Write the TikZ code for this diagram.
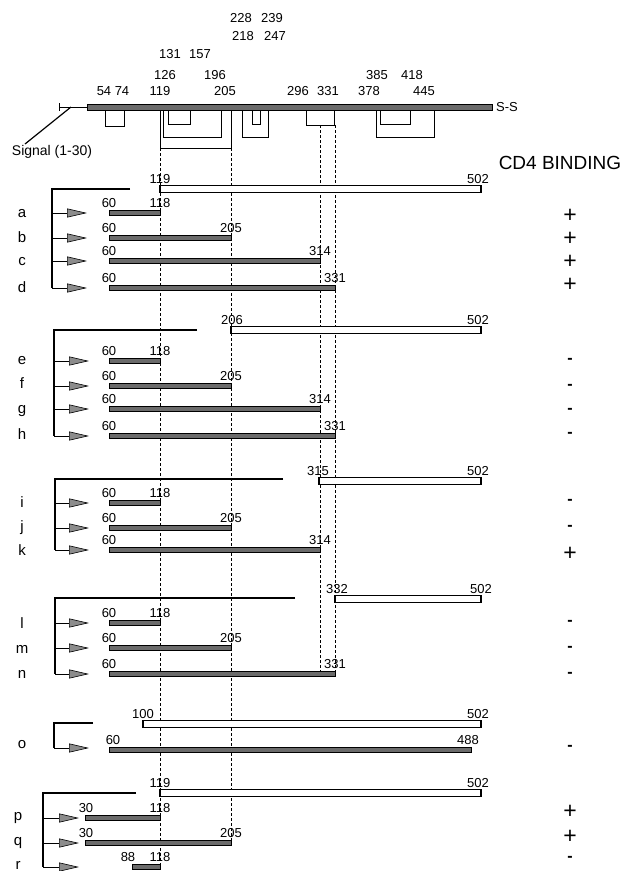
\documentclass[tikz,border=0pt]{standalone}
\usepackage{fontspec}
\setmainfont{Liberation Sans}
\usetikzlibrary{arrows.meta,positioning}

\begin{document}
\begin{tikzpicture}[x=1pt,y=-1pt,
  gbar/.style={draw=black,fill=black!58,line width=0.6pt},
  wbar/.style={draw=black,fill=white,line width=1.1pt},
  num/.style={font=\fontsize{13}{13}\selectfont,inner sep=0pt,anchor=base},
  rowlab/.style={font=\fontsize{15}{15}\selectfont,inner sep=0pt,anchor=base},
  bindplus/.style={font=\fontsize{23}{23}\selectfont,inner sep=0pt},
  bindminus/.style={font=\fontsize{16}{16}\selectfont\bfseries,inner sep=0pt},
  brk/.style={line width=1.2pt},
  arr/.style={line width=0.6pt,-{Triangle[length=20pt,width=9pt,fill=black!45]}},
  cutline/.style={dashed,dash pattern=on 3pt off 2pt,line width=0.7pt},
  ss/.style={line width=1pt}
]
\useasboundingbox (0,0) rectangle (627,871);

% gp120 chain with disulfide loops
\draw[gbar] (87,104) rectangle (492,110);
\node[font=\fontsize{13}{13}\selectfont,inner sep=0pt,anchor=west] (sslab) at (496,107) {S-S};
\coordinate (sigtick) at (59,107);
\coordinate (sigend) at (87,107);
\coordinate (sigknee) at (71,107);
\coordinate (sigfoot) at (25,144);
\draw[line width=0.6pt] (sigtick) -- (sigend);
\draw[line width=1pt] (59,103) -- (59,111);
\draw[line width=1.2pt] (sigknee) -- (sigfoot);
\node[font=\fontsize{14}{14}\selectfont,inner sep=0pt] (signal) at (52,152) {Signal (1-30)};

\draw[ss] (105,110) |- (124,126) -- (124,110);
\draw[ss] (160,110) |- (231,148) -- (231,110);
\draw[ss] (163,110) |- (221,137) -- (221,110);
\draw[ss] (168,110) |- (190,124) -- (190,110);
\draw[ss] (242,110) |- (268,137) -- (268,110);
\draw[ss] (252,110) |- (260,124) -- (260,110);
\draw[ss] (306,110) |- (334,125) -- (334,110);
\draw[ss] (376,110) |- (434,137) -- (434,110);
\draw[ss] (380,110) |- (410,124) -- (410,110);

\node[num] (t228) at (241,22.7) {228};
\node[num] (t239) at (272,22.7) {239};
\node[num] (t218) at (243,40.7) {218};
\node[num] (t247) at (275,40.7) {247};
\node[num] (t131) at (170,58.3) {131};
\node[num] (t157) at (200,58.3) {157};
\node[num] (t126) at (165,79) {126};
\node[num] (t196) at (215,79) {196};
\node[num] (t385) at (377,79) {385};
\node[num] (t418) at (412,79) {418};
\node[num] (t54) at (104,95.5) {54};
\node[num] (t74) at (122,95.5) {74};
\node[num] (t119) at (160,95.5) {119};
\node[num] (t205) at (225,95.5) {205};
\node[num] (t296) at (298,95.5) {296};
\node[num] (t331) at (328,95.5) {331};
\node[num] (t378) at (369,95.5) {378};
\node[num] (t445) at (424,95.5) {445};

\node[font=\fontsize{19}{19}\selectfont,inner sep=0pt] (cdfour) at (560,163) {CD4 BINDING};

% cut lines
\draw[cutline] (160,148) -- (160,864);
\draw[cutline] (231,148) -- (231,840);
\draw[cutline] (320,125) -- (320,672);
\draw[cutline] (335,125) -- (335,672);

% group a-d
\draw[wbar] (160,185.5) rectangle (481,192.5);
\node[num] (w1s) at (160,183) {119};
\node[num] (w1e) at (478,183) {502};
\draw[brk] (130,189) -| (52,288);
\draw[gbar] (109,210.25) rectangle (160,215.75);
\draw[gbar] (109,235.25) rectangle (231,240.75);
\draw[gbar] (109,258.25) rectangle (320,263.75);
\draw[gbar] (109,285.25) rectangle (335,290.75);
\node[num] (a1) at (109,207.5) {60};  \node[num] (a2) at (160,207.5) {118};
\node[num] (b1) at (109,232.5) {60};  \node[num] (b2) at (231,232.5) {205};
\node[num] (c1) at (109,255.5) {60};  \node[num] (c2) at (320,255.5) {314};
\node[num] (d1) at (109,282.5) {60};  \node[num] (d2) at (335,282.5) {331};
\coordinate (ha) at (87,213); \coordinate (hb) at (87,238);
\coordinate (hc) at (87,261); \coordinate (hd) at (87,288);
\draw[arr] (52,213) -- (ha);
\draw[arr] (52,238) -- (hb);
\draw[arr] (52,261) -- (hc);
\draw[arr] (52,288) -- (hd);
\node[rowlab] (la) at (22,217) {a};
\node[rowlab] (lb) at (22,242) {b};
\node[rowlab] (lc) at (22,265) {c};
\node[rowlab] (ld) at (22,292) {d};
\node[bindplus] (ra) at (570,216) {+};
\node[bindplus] (rb) at (570,239) {+};
\node[bindplus] (rc) at (570,262) {+};
\node[bindplus] (rd) at (570,285) {+};

% group e-h
\draw[wbar] (231,326.5) rectangle (481,333.5);
\node[num] (w2s) at (232,324) {206};
\node[num] (w2e) at (478,324) {502};
\draw[brk] (197,330) -| (54,436);
\draw[gbar] (109,358.25) rectangle (160,363.75);
\draw[gbar] (109,383.25) rectangle (231,388.75);
\draw[gbar] (109,406.25) rectangle (320,411.75);
\draw[gbar] (109,433.25) rectangle (335,438.75);
\node[num] (e1) at (109,355.5) {60};  \node[num] (e2) at (160,355.5) {118};
\node[num] (f1) at (109,380.5) {60};  \node[num] (f2) at (231,380.5) {205};
\node[num] (g1) at (109,403.5) {60};  \node[num] (g2) at (320,403.5) {314};
\node[num] (h1) at (109,430.5) {60};  \node[num] (h2) at (335,430.5) {331};
\coordinate (he) at (89,361); \coordinate (hf) at (89,386);
\coordinate (hg) at (89,409); \coordinate (hh) at (89,436);
\draw[arr] (54,361) -- (he);
\draw[arr] (54,386) -- (hf);
\draw[arr] (54,409) -- (hg);
\draw[arr] (54,436) -- (hh);
\node[rowlab] (le) at (22,364) {e};
\node[rowlab] (lf) at (22,388) {f};
\node[rowlab] (lg) at (22,413) {g};
\node[rowlab] (lh) at (22,439) {h};
\node[bindminus] (re) at (570,361) {-};
\node[bindminus] (rf) at (570,387) {-};
\node[bindminus] (rg) at (570,411) {-};
\node[bindminus] (rh) at (570,435) {-};

% group i-k
\draw[wbar] (319,477.5) rectangle (481,484.5);
\node[num] (w3s) at (318,475) {315};
\node[num] (w3e) at (478,475) {502};
\draw[brk] (283,479) -| (55,550);
\draw[gbar] (109,500.25) rectangle (160,505.75);
\draw[gbar] (109,525.25) rectangle (231,530.75);
\draw[gbar] (109,547.25) rectangle (320,552.75);
\node[num] (i1) at (109,497.5) {60};  \node[num] (i2) at (160,497.5) {118};
\node[num] (j1) at (109,522.5) {60};  \node[num] (j2) at (231,522.5) {205};
\node[num] (k1) at (109,544.5) {60};  \node[num] (k2) at (320,544.5) {314};
\coordinate (hi) at (89,503); \coordinate (hj) at (89,528);
\coordinate (hk) at (89,550);
\draw[arr] (55,503) -- (hi);
\draw[arr] (55,528) -- (hj);
\draw[arr] (55,550) -- (hk);
\node[rowlab] (li) at (22,507) {i};
\node[rowlab] (lj) at (22,531) {j};
\node[rowlab] (lk) at (22,555) {k};
\node[bindminus] (ri) at (570,502) {-};
\node[bindminus] (rj) at (570,528) {-};
\node[bindplus] (rk) at (570,554) {+};

% group l-n
\draw[wbar] (335,595.5) rectangle (481,602.5);
\node[num] (w4s) at (337,593) {332};
\node[num] (w4e) at (481,593) {502};
\draw[brk] (295,598) -| (55,674);
\draw[gbar] (109,620.25) rectangle (160,625.75);
\draw[gbar] (109,645.25) rectangle (231,650.75);
\draw[gbar] (109,671.25) rectangle (335,676.75);
\node[num] (l1) at (109,617.5) {60};  \node[num] (l2) at (160,617.5) {118};
\node[num] (m1) at (109,642.5) {60};  \node[num] (m2) at (231,642.5) {205};
\node[num] (n1) at (109,668.5) {60};  \node[num] (n2) at (335,668.5) {331};
\coordinate (hl) at (89,623); \coordinate (hm) at (89,648);
\coordinate (hn) at (89,674);
\draw[arr] (55,623) -- (hl);
\draw[arr] (55,648) -- (hm);
\draw[arr] (55,674) -- (hn);
\node[rowlab] (ll) at (22,628) {l};
\node[rowlab] (lm) at (22,653) {m};
\node[rowlab] (ln) at (22,678) {n};
\node[bindminus] (rl) at (570,623) {-};
\node[bindminus] (rm) at (570,649) {-};
\node[bindminus] (rn) at (570,675) {-};

% group o
\draw[wbar] (143,720.5) rectangle (481,727.5);
\node[num] (w5s) at (143,718) {100};
\node[num] (w5e) at (478,718) {502};
\draw[brk] (93,723) -| (54,748);
\draw[gbar] (109,747.25) rectangle (471,752.75);
\node[num] (o1) at (113,744.5) {60};  \node[num] (o2) at (468,744.5) {488};
\coordinate (ho) at (89,748);
\draw[arr] (54,748) -- (ho);
\node[rowlab] (lo) at (22,748) {o};
\node[bindminus] (ro) at (570,748) {-};

% group p-r
\draw[wbar] (160,789.5) rectangle (481,796.5);
\node[num] (w6s) at (160,787) {119};
\node[num] (w6e) at (478,787) {502};
\draw[brk] (136,793) -| (43,867);
\draw[gbar] (85,815.25) rectangle (160,820.75);
\draw[gbar] (85,840.25) rectangle (231,845.75);
\draw[gbar] (132,864.25) rectangle (160,869.75);
\node[num] (p1) at (86,812.5) {30};  \node[num] (p2) at (160,812.5) {118};
\node[num] (q1) at (86,837.5) {30};  \node[num] (q2) at (231,837.5) {205};
\node[num] (r1) at (128,861.5) {88}; \node[num] (r2) at (160,861.5) {118};
\coordinate (hp) at (79,818); \coordinate (hq) at (79,843);
\coordinate (hr) at (79,867);
\draw[arr] (43,818) -- (hp);
\draw[arr] (43,843) -- (hq);
\draw[arr] (43,867) -- (hr);
\node[rowlab] (lp) at (18,820) {p};
\node[rowlab] (lq) at (18,845) {q};
\node[rowlab] (lr) at (18,869) {r};
\node[bindplus] (rp) at (570,812) {+};
\node[bindplus] (rq) at (570,837) {+};
\node[bindminus] (rr) at (570,859) {-};
\end{tikzpicture}
\end{document}
